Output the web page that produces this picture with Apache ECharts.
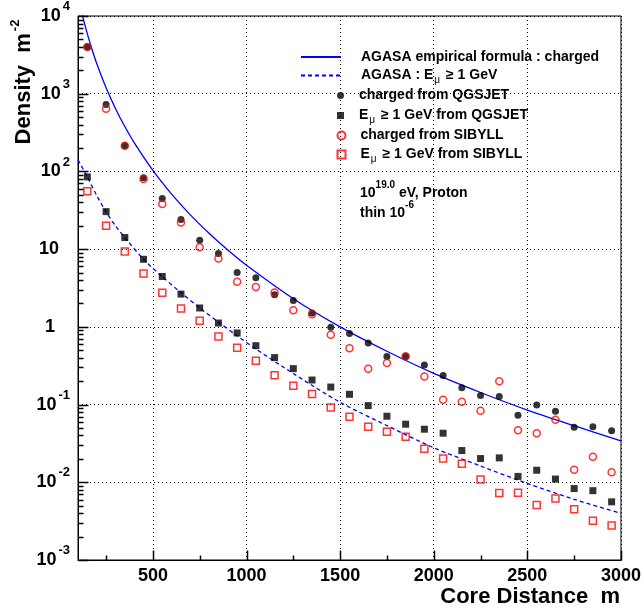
<!DOCTYPE html>
<html><head><meta charset="utf-8">
<script src="https://cdn.jsdelivr.net/npm/echarts@6/dist/echarts.min.js"></script>
<style>html,body{margin:0;padding:0;background:#fff}#c{width:644px;height:608px}</style>
</head><body><div id="c"></div>
<script>
const FONT = '"Liberation Sans", Arial, Helvetica, sans-serif';

// ---- data ----
const distances = [150,250,350,450,550,650,750,850,950,1050,1150,1250,1350,1450,1550,1650,1750,1850,1950,2050,2150,2250,2350,2450,2550,2650,2750,2850,2950];
const chargedQGSJET = [4000,728,214,83,45,24,13,8.8,5.0,4.3,2.59,2.19,1.51,0.99,0.82,0.62,0.414,0.417,0.324,0.236,0.165,0.131,0.127,0.073,0.099,0.082,0.051,0.0517,0.0459];
const muonQGSJET = [85,30.4,14.1,7.4,4.45,2.64,1.75,1.12,0.834,0.573,0.402,0.29,0.207,0.168,0.1355,0.097,0.0708,0.0559,0.0482,0.0428,0.0256,0.0202,0.0206,0.0119,0.0143,0.011,0.0083,0.0078,0.0056];
const chargedSIBYLL = [4000,640,214,80,38,22,10.6,7.6,3.8,3.25,2.77,1.64,1.45,0.79,0.53,0.29,0.343,0.42,0.229,0.115,0.109,0.083,0.2,0.0468,0.0428,0.0636,0.0145,0.0213,0.0135];
const muonSIBYLL = [55.6,20,9.3,4.85,2.74,1.72,1.2,0.753,0.54,0.367,0.238,0.175,0.137,0.0915,0.0695,0.052,0.0446,0.0385,0.027,0.0202,0.0173,0.0109,0.00726,0.00735,0.0051,0.0062,0.0045,0.0032,0.00277];

const agasaChargedX = [123,135,150,175,200,250,300,350,400,500,600,700,800,900,1000,1250,1500,1750,2000,2250,2500,2750,3000];
const agasaChargedY = [10400,7990,5880,3700,2445,1193,647,378,235,103,51,27.6,16.0,9.73,6.19,2.30,1.0,0.485,0.252,0.143,0.085,0.0535,0.034];
const agasaMuonX = [100,150,200,250,300,350,450,550,650,750,850,950,1050,1250,1500,1750,2000,2250,2500,2750,3000];
const agasaMuonY = [141,85,49,30.2,20,14.1,7.4,4.42,2.75,1.76,1.15,0.767,0.519,0.251,0.107,0.0537,0.0278,0.0162,0.00966,0.00603,0.00398];

const xMajorTicks = [500,1000,1500,2000,2500,3000];
const xMinorTicks = [250,750,1250,1750,2250,2750];
const yExponents = [-3,-2,-1,0,1,2,3,4];

const N1 = 'AGASA empirical formula : charged';
const N2 = 'AGASA : Eμ ≥ 1 GeV';
const N3 = 'charged from QGSJET';
const N4 = 'Eμ ≥ 1 GeV from QGSJET';
const N5 = 'charged from SIBYLL';
const N6 = 'Eμ ≥ 1 GeV from SIBYLL';

// ---- helpers ----
const X_MIN = 100, X_MAX = 3000, Y_MIN = 0.001, Y_MAX = 10000;
const yMinorTicks = [];
yExponents.slice(0, -1).forEach(e => { for (let m = 2; m <= 9; m++) yMinorTicks.push(+(m * Math.pow(10, e)).toPrecision(3)); });
const yMajorTicks = yExponents.map(e => Math.pow(10, e));
const pairs = (xs, ys) => xs.map((x, i) => [x, ys[i]]);

// tick marks: [x, y, length, direction(0 = on y axis, 1 = on x axis)]
const tickMarks = [];
yMajorTicks.forEach(v => tickMarks.push([X_MIN, v, 10, 0]));
yMinorTicks.forEach(v => tickMarks.push([X_MIN, v, 5, 0]));
xMajorTicks.forEach(v => tickMarks.push([v, Y_MIN, 10, 1]));
xMinorTicks.forEach(v => tickMarks.push([v, Y_MIN, 5, 1]));

const legendRich = {
  n: {fontSize: 14, fontWeight: 'bold', fontFamily: FONT, color: '#000', padding: [3,0,3,0]},
  a: {fontSize: 14, fontWeight: 'bold', fontFamily: FONT, color: '#000', padding: [3,0,3,15]},
  b: {fontSize: 14, fontWeight: 'bold', fontFamily: FONT, color: '#000', padding: [3,0,3,10]},
  u: {fontSize: 10, fontWeight: 'normal', fontFamily: FONT, color: '#000', verticalAlign: 'bottom', padding: [0,2,0,1]}
};
const legendText = {};
legendText[N1] = '{a|AGASA empirical formula : charged}';
legendText[N2] = '{a|AGASA : E}{u|μ}{n| ≥ 1 GeV}';
legendText[N3] = '{b|charged from QGSJET}';
legendText[N4] = '{b|E}{u|μ}{n| ≥ 1 GeV from QGSJET}';
legendText[N5] = '{b|charged from SIBYLL}';
legendText[N6] = '{b|E}{u|μ}{n| ≥ 1 GeV from SIBYLL}';

function mkLegend(name, left, top, w, h, icon) {
  const l = {show: true, selectedMode: false, data: [name], left: left, top: top, padding: 0,
    orient: 'vertical', itemWidth: w, itemHeight: h,
    formatter: n => legendText[n], textStyle: {rich: legendRich, color: '#000'}};
  if (icon) l.icon = icon; else l.itemStyle = {opacity: 0};
  return l;
}

const textGraphics = [
  {type: 'text', x: 24, y: 82, rotation: Math.PI / 2, z: 10,
    style: {text: '{t|Density  m}{s|-2}', align: 'center', verticalAlign: 'middle',
      rich: {t: {fontSize: 22, fontWeight: 'bold', fontFamily: FONT, fill: '#000', padding: [4,0,4,0]},
             s: {fontSize: 13, fontWeight: 'bold', fontFamily: FONT, fill: '#000', verticalAlign: 'top', padding: [0,0,0,2]}}}},
  {type: 'text', x: 620, y: 597, z: 10,
    style: {text: 'Core Distance  m', align: 'right', verticalAlign: 'middle',
      font: 'bold 22px ' + FONT, fill: '#000'}},
  {type: 'text', x: 360, y: 193, z: 10,
    style: {text: '{b|10}{s|19.0}{b| eV, Proton}', align: 'left', verticalAlign: 'middle',
      rich: {b: {fontSize: 14, fontWeight: 'bold', fontFamily: FONT, fill: '#000', padding: [6,0,6,0]},
             s: {fontSize: 10, fontWeight: 'bold', fontFamily: FONT, fill: '#000', verticalAlign: 'top'}}}},
  {type: 'text', x: 360, y: 213, z: 10,
    style: {text: '{b|thin 10}{s|-6}', align: 'left', verticalAlign: 'middle',
      rich: {b: {fontSize: 14, fontWeight: 'bold', fontFamily: FONT, fill: '#000', padding: [6,0,6,0]},
             s: {fontSize: 10, fontWeight: 'bold', fontFamily: FONT, fill: '#000', verticalAlign: 'top'}}}}
];

const chart = echarts.init(document.getElementById('c'), null, {renderer: 'canvas'});
const axisLineStyle = {color: '#000', width: 1};
chart.setOption({
  animation: false,
  backgroundColor: '#fff',
  grid: {left: 78, right: 22, top: 16, bottom: 48, show: true, borderColor: '#000', borderWidth: 1, backgroundColor: 'transparent'},
  xAxis: {type: 'value', min: X_MIN, max: X_MAX, position: 'bottom',
    axisLine: {show: true, onZero: false, lineStyle: axisLineStyle},
    axisTick: {show: false},
    axisLabel: {show: true, customValues: xMajorTicks, margin: 7, fontSize: 18, fontWeight: 'bold', fontFamily: FONT, color: '#000',
      formatter: v => String(v)},
    splitLine: {show: true, lineStyle: {color: '#000', width: 1, type: [1, 3]}}},
  yAxis: {type: 'log', logBase: 10, min: Y_MIN, max: Y_MAX, position: 'left', splitNumber: 7,
    axisLine: {show: true, onZero: false, lineStyle: axisLineStyle},
    axisTick: {show: false},
    axisLabel: {show: true, margin: 8,
      formatter: v => {
        const e = Math.round(Math.log10(v));
        if (e === 1) return '{p|10}';
        if (e === 0) return '{q|1}';
        return '{b|10}{s|' + e + '}';
      },
      rich: {
        b: {fontSize: 18, fontWeight: 'bold', fontFamily: FONT, color: '#000', padding: [7,0,7,0]},
        s: {fontSize: 13, fontWeight: 'bold', fontFamily: FONT, color: '#000', verticalAlign: 'top', padding: [0,0,0,2]},
        p: {fontSize: 18, fontWeight: 'bold', fontFamily: FONT, color: '#000', padding: [0,11,0,0]},
        q: {fontSize: 18, fontWeight: 'bold', fontFamily: FONT, color: '#000', padding: [0,15,0,0]}
      }},
    splitLine: {show: true, lineStyle: {color: '#000', width: 1, type: [1, 3]}}},
  legend: [
    mkLegend(N1, 300, 50, 40, 14),
    mkLegend(N2, 300, 68.5, 40, 14),
    mkLegend(N3, 337, 88.5, 7, 7, 'circle'),
    mkLegend(N4, 337, 108.5, 7, 7, 'rect'),
    mkLegend(N5, 336.5, 128.5, 8, 8, 'circle'),
    mkLegend(N6, 336.5, 147.5, 8, 8, 'rect')
  ],
  series: [
    {name: N1, type: 'line', data: pairs(agasaChargedX, agasaChargedY), symbol: 'none', smooth: 0.3,
      lineStyle: {color: '#0000ff', width: 1.3}, itemStyle: {color: '#0000ff'}, z: 2},
    {name: N2, type: 'line', data: pairs(agasaMuonX, agasaMuonY), symbol: 'none', smooth: 0.3,
      lineStyle: {color: '#0000ff', width: 1.3, type: [4, 3]}, itemStyle: {color: '#0000ff'}, z: 2},
    {name: N3, type: 'scatter', data: pairs(distances, chargedQGSJET), symbol: 'circle', symbolSize: 7,
      itemStyle: {color: '#000'}, z: 3},
    {name: N4, type: 'scatter', data: pairs(distances, muonQGSJET), symbol: 'rect', symbolSize: 7,
      itemStyle: {color: '#000'}, z: 3},
    {name: N5, type: 'scatter', data: pairs(distances, chargedSIBYLL), symbol: 'circle', symbolSize: 7,
      itemStyle: {color: 'rgba(0,0,0,0)', borderColor: '#ff0000', borderWidth: 1.5}, z: 4},
    {name: N6, type: 'scatter', data: pairs(distances, muonSIBYLL), symbol: 'rect', symbolSize: 7,
      itemStyle: {color: 'rgba(0,0,0,0)', borderColor: '#ff0000', borderWidth: 1.5}, z: 4}
  ],
  graphic: textGraphics
});

// axis tick marks placed through the chart's own coordinate conversion
const tickGraphics = tickMarks.map(t => {
  const p = chart.convertToPixel({gridIndex: 0}, [t[0], t[1]]);
  const px = Math.round(p[0]) + 0.5, py = Math.round(p[1]) + 0.5;
  const shape = t[3] === 0
    ? {x1: px, y1: py, x2: px + t[2], y2: py}
    : {x1: px, y1: py, x2: px, y2: py - t[2]};
  return {type: 'line', shape: shape, silent: true, z: 50, style: {stroke: '#000', lineWidth: 1.5}};
});
chart.setOption({graphic: textGraphics.concat(tickGraphics)});
</script></body></html>
